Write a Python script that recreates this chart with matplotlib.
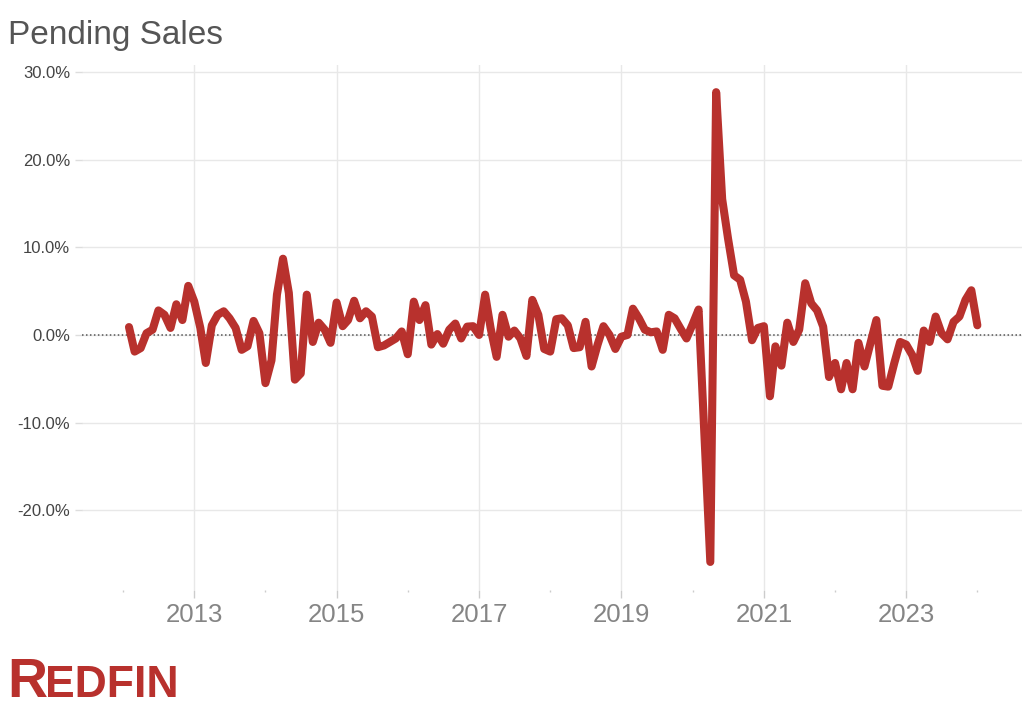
import matplotlib
matplotlib.use("Agg")
import matplotlib.pyplot as plt
import matplotlib.dates as mdates
from matplotlib.ticker import FuncFormatter
import pandas as pd

plt.rcParams['font.family'] = ['Liberation Sans', 'DejaVu Sans']

# monthly change in pending sales, Feb 2012 .. Jan 2024 (%)
start_month = '2012-02-01'
pending_change = [
    0.9, -1.9, -1.5, 0.2, 0.6, 2.8, 2.3, 0.8, 3.5, 1.7, 5.6,          # 2012
    3.8, 0.8, -3.2, 1.1, 2.3, 2.7, 1.9, 0.8, -1.7, -1.3, 1.6, 0.2,    # 2013
    -5.5, -2.9, 4.6, 8.7, 4.8, -5.1, -4.4, 4.6, -0.8, 1.4, 0.6, -0.9, # 2014
    3.7, 1.0, 1.7, 3.9, 1.9, 2.7, 2.1, -1.4, -1.2, -0.8, -0.4, 0.4,   # 2015
    -2.2, 3.8, 1.7, 3.4, -1.1, 0.1, -1.0, 0.6, 1.3, -0.4, 0.95, 1.0,  # 2016
    0.0, 4.6, 0.8, -2.5, 2.3, -0.2, 0.5, -0.4, -2.4, 4.0, 2.3, -1.6,  # 2017
    -1.9, 1.8, 1.9, 1.1, -1.5, -1.4, 1.5, -3.6, -1.1, 1.0, 0.0, -1.6, # 2018
    -0.2, 0.0, 3.0, 1.9, 0.6, 0.3, 0.4, -1.7, 2.3, 1.9, 0.7, -0.4,    # 2019
    1.2, 2.9, -11.0, -25.9, 27.7, 15.5, 11.0, 6.8, 6.3, 3.8, -0.6, 0.8,  # 2020
    1.0, -7.0, -1.3, -3.5, 1.4, -0.8, 0.6, 5.9, 3.6, 2.8, 0.95, -4.8, # 2021
    -3.2, -6.2, -3.2, -6.2, -0.9, -3.6, -1.0, 1.7, -5.8, -5.9, -3.2, -0.8,  # 2022
    -1.1, -2.3, -4.1, 0.5, -0.8, 2.1, 0.2, -0.5, 1.5, 2.1, 4.0, 5.1,  # 2023
    1.1,                                                              # 2024
]
months = pd.date_range(start_month, periods=len(pending_change), freq='MS')

y_ticks = [-20, -10, 0, 10, 20, 30]
labelled_years = list(range(2013, 2025, 2))
title = 'Pending Sales'
red = '#b8312d'

fig = plt.figure(figsize=(10.24, 7.08), dpi=100)
ax = fig.add_axes([82 / 1024, 118 / 708, 940 / 1024, 525 / 708])

ax.plot(months, pending_change, color=red, lw=5.8, solid_joinstyle='round',
        solid_capstyle='round', zorder=3)
ax.axhline(0, color='#555555', lw=1.1, ls=(0, (1, 1.6)), zorder=2)

ax.set_xlim(pd.Timestamp('2011-06-05'), pd.Timestamp('2024-08-17'))
ax.set_ylim(-29.1, 30.8)

# odd years get labels, even years only a tiny tick
ax.set_xticks([pd.Timestamp(f'{y}-01-01') for y in labelled_years])
ax.set_xticks([pd.Timestamp(f'{y - 1}-01-01') for y in labelled_years + [2025]], minor=True)
ax.xaxis.set_major_formatter(mdates.DateFormatter('%Y'))

ax.set_yticks(y_ticks)
ax.yaxis.set_major_formatter(FuncFormatter(lambda v, p: f'{v:.1f}%'))

for s in ax.spines.values():
    s.set_visible(False)

ax.grid(True, which='major', color='#e8e8e8', lw=1.0, zorder=0)
ax.tick_params(axis='x', which='major', length=6, width=1, color='#cccccc',
               labelsize=18.5, labelcolor='#858585', pad=3.5)
ax.tick_params(axis='x', which='minor', length=1.5, width=1, color='#cccccc')
ax.tick_params(axis='y', length=5, width=1, color='#dddddd',
               labelsize=12, labelcolor='#444444', pad=3.5)

fig.text(8 / 1024, 1 - 44 / 708, title, fontsize=24, color='#555555',
         va='baseline', ha='left')

# logo: big R, smaller EDFIN on the same baseline
logo_y = 1 - 697 / 708
r = fig.text(7 / 1024, logo_y, 'R', fontsize=40, fontweight='bold',
             color=red, va='baseline', ha='left')
fig.canvas.draw()
r_box = r.get_window_extent().transformed(fig.transFigure.inverted())
fig.text(r_box.x1 - 2 / 1024, logo_y, 'EDFIN', fontsize=32, fontweight='bold',
         color=red, va='baseline', ha='left')

fig.savefig('out.png', dpi=100)
